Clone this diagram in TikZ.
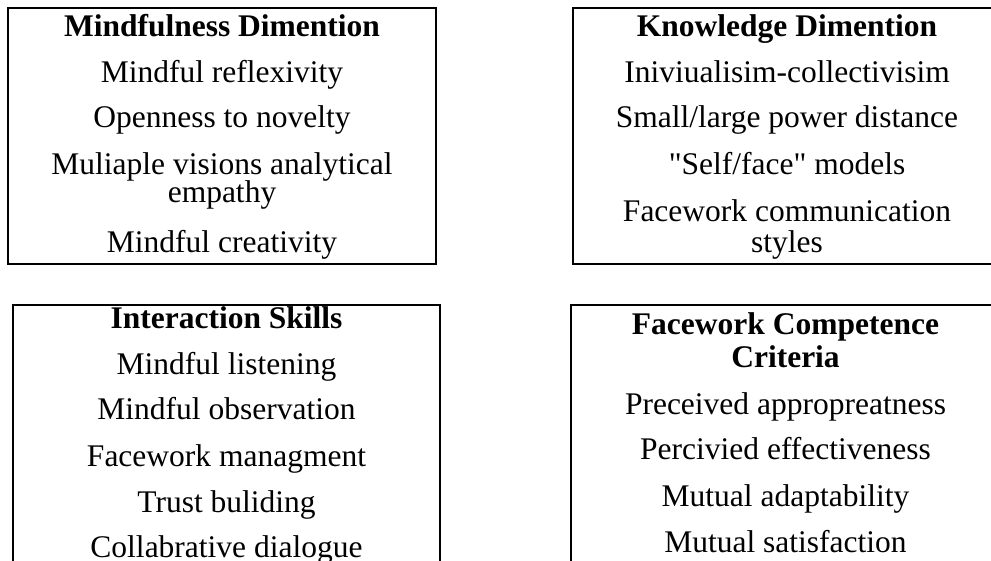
\documentclass[tikz,border=0pt]{standalone}
\usepackage{fontspec}
\setmainfont{Liberation Serif}[Ligatures=TeXOff]
\begin{document}
\begin{tikzpicture}[x=1pt,y=1pt,
  panel/.style={draw=black, line width=2pt, inner sep=0pt, outer sep=0pt},
  head/.style={anchor=base, inner sep=0pt, font=\fontsize{31.5}{29}\selectfont\bfseries},
  item/.style={anchor=base, inner sep=0pt, font=\fontsize{31.5}{29}\selectfont}]
\useasboundingbox (0,0) rectangle (991,560);
\clip (0,0) rectangle (991,560);
% four framed panels (the right and lower ones run past the frame)
\node[panel, minimum width=428, minimum height=256] (mind) at (222,424) {};
\node[panel, minimum width=428, minimum height=256] (know) at (787,424) {};
\node[panel, minimum width=427, minimum height=290] (skill) at (226.5,110) {};
\node[panel, minimum width=430, minimum height=290] (crit) at (786,110) {};
% Mindfulness
\node[head] (m0) at (222,523) {Mindfulness Dimention};
\node[item] (m1) at (222,477) {Mindful reflexivity};
\node[item] (m2) at (222,432) {Openness to novelty};
\node[item] (m3) at (222,385) {Muliaple visions analytical};
\node[item] (m3b) at (222,357) {empathy};
\node[item] (m4) at (222,307) {Mindful creativity};
% Knowledge
\node[head] (k0) at (787,523) {Knowledge Dimention};
\node[item] (k1) at (787,477) {Iniviualisim-collectivisim};
\node[item] (k2) at (787,432) {Small/large power distance};
\node[item] (k3) at (787,385) {"Self/face" models};
\node[item] (k4) at (787,338) {Facework communication};
\node[item] (k4b) at (787,307) {styles};
% Interaction skills
\node[head] (s0) at (226.5,231) {Interaction Skills};
\node[item] (s1) at (226.5,185) {Mindful listening};
\node[item] (s2) at (226.5,140) {Mindful observation};
\node[item] (s3) at (226.5,93) {Facework managment};
\node[item] (s4) at (226.5,48) {Trust buliding};
\node[item] (s5) at (226.5,3) {Collabrative dialogue};
% Competence criteria
\node[head] (c0) at (785.5,225) {Facework Competence};
\node[head] (c0b) at (785.5,192) {Criteria};
\node[item] (c1) at (785.5,145) {Preceived appropreatness};
\node[item] (c2) at (785.5,100) {Percivied effectiveness};
\node[item] (c3) at (785.5,53) {Mutual adaptability};
\node[item] (c4) at (785.5,8) {Mutual satisfaction};
\end{tikzpicture}
\end{document}
